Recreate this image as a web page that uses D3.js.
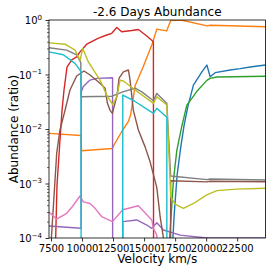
<!DOCTYPE html>
<html>
<head>
<meta charset="utf-8">
<script src="https://cdn.jsdelivr.net/npm/d3@7"></script>
<style>
  body { margin: 0; background: #fff; }
  svg { font-family: "DejaVu Sans", sans-serif; }
</style>
</head>
<body>
<div id="vis"></div>
<script>
const FRAME_WIDTH = 274;
const FRAME_HEIGHT = 274;
const MARGINS = {left: 49, right: 8.5, top: 20, bottom: 36};

// abundance of each element vs velocity as [km/s, ratio]
// (0 means the element is absent in that shell)
const blue = [[7340, 0], [17100, 0], [17200, 3e-5], [17420, 2.6e-4], [17660, 1.43e-3],
  [17945, 4.5e-3], [18225, 1.18e-2], [18550, 2.75e-2], [18975, 6.4e-2], [19655, 0.112],
  [20055, 0.149], [20325, 0.091], [20725, 0.108], [21935, 0.121], [22740, 0.128],
  [23550, 0.137], [24780, 0.149]];
const orange = [[7340, 8.3e-3], [9920, 7.6e-3], [9960, 4.0e-3], [12420, 4.4e-3],
  [13200, 9.0e-3], [13750, 1.4e-2], [13910, 1.8e-2], [14275, 6.2e-2], [14920, 0.137],
  [15645, 0.36], [16025, 0.68], [16815, 0.63], [17155, 0.99], [18065, 0.99],
  [20080, 0.78], [20320, 0.80], [24780, 0.75]];
const green = [[7340, 0], [16900, 0], [16950, 4e-5], [17180, 2.6e-4], [17365, 1.16e-3],
  [17640, 4.1e-3], [18040, 1.13e-2], [18445, 2.75e-2], [18975, 0.040], [19275, 0.050],
  [20055, 0.078], [20320, 0.085], [20860, 0.090], [24780, 0.093]];
const red = [[7340, 0], [7700, 0], [7820, 3e-5], [7985, 9.4e-4], [8225, 6.3e-3],
  [8390, 2.2e-2], [8550, 5.2e-2], [8790, 0.137], [9170, 0.185], [9570, 0.21],
  [9840, 0.26], [10380, 0.36], [11290, 0.46], [11990, 0.53], [12395, 0.57],
  [12800, 0.73], [13200, 0.61], [14010, 0.64], [14540, 0.67], [15220, 0.51],
  [15750, 0.40], [15850, 0], [24780, 0]];
const purple = [[7340, 1.66e-4], [9920, 1.51e-4], [9940, 0.048], [10105, 0.060],
  [10645, 0.079], [11210, 0.085], [12460, 0.087], [12520, 0], [13200, 0],
  [13285, 2.0e-4], [14410, 2.14e-4], [15220, 1.73e-4], [15620, 1.5e-4],
  [16025, 1.9e-4], [16560, 1.4e-4], [17900, 1.13e-4], [20055, 1.0e-4], [24780, 1.0e-4]];
const brown = [[7340, 2e-5], [7960, 3.6e-3], [8225, 9.6e-3], [8630, 2.2e-2],
  [9030, 5.2e-2], [9570, 9.4e-2], [10160, 0.116], [10645, 0.098], [11450, 0.069],
  [11855, 0.056], [12040, 0.030], [12260, 0.022], [12445, 0.0194], [12825, 0.042],
  [12985, 0.086], [13330, 0.112], [13735, 0.121], [13870, 0.079], [14135, 0.022],
  [14540, 9.6e-3], [15080, 4.7e-3], [15485, 2.5e-3], [16025, 8.4e-4], [16290, 2.5e-4],
  [16560, 1.0e-4], [16800, 0], [17000, 0], [17140, 1.12e-3], [20060, 1.07e-3],
  [20320, 1.1e-3], [24780, 1.08e-3]];
const pink = [[7340, 3.0e-4], [7945, 2.23e-4], [8765, 2.84e-4], [9195, 3.7e-4],
  [9840, 5.9e-4], [10105, 4.6e-4], [10645, 4.3e-4], [11050, 3.5e-4], [11590, 2.46e-4],
  [12445, 2.0e-4], [13285, 3.3e-4], [14540, 3.9e-4], [15620, 2.14e-4], [15750, 1.5e-4],
  [16025, 1.13e-4], [16290, 0], [24780, 0]];
const gray = [[7340, 0.31], [8765, 0.28], [9570, 0.23], [9900, 0.165], [9930, 0.039],
  [12420, 0.040], [13285, 0.048], [14275, 0.056], [14815, 0.048], [15750, 0.033],
  [16025, 0.045], [16830, 0.0296], [17140, 1.37e-3], [20060, 1.18e-3], [20320, 1.21e-3],
  [24780, 1.16e-3]];
const olive = [[7340, 0.38], [8630, 0.36], [9435, 0.28], [9760, 0.20], [9840, 0.18],
  [10055, 0.30], [10510, 0.17], [11450, 0.079], [11990, 0.042], [12475, 0.028],
  [12800, 0.039], [13065, 0.079], [13330, 0.076], [14275, 0.052], [15750, 0.0296],
  [16025, 0.039], [16830, 0.0275], [17150, 5.65e-4], [17500, 4.2e-4], [18170, 3.5e-4],
  [18975, 4.3e-4], [20055, 6.2e-4], [20860, 7.4e-4], [22475, 7.9e-4], [24780, 8.2e-4]];
const cyan = [[7340, 0.26], [8490, 0.23], [9435, 0.16], [9840, 0.12], [9920, 0.11],
  [9980, 0], [13200, 0], [13285, 0.042], [14275, 0.032], [15750, 0.0194],
  [16025, 0.024], [16830, 0.0164], [16890, 0], [24780, 0]];

const SERIES = [blue, orange, green, red, purple, brown, pink, gray, olive, cyan];
const COLORS = ["#1f77b4", "#ff7f0e", "#2ca02c", "#d62728", "#9467bd",
                "#8c564b", "#e377c2", "#7f7f7f", "#bcbd22", "#17becf"];

const X_TICKS = [7500, 10000, 12500, 15000, 17500, 20000, 22500];
const Y_TICKS = [1e-4, 1e-3, 1e-2, 1e-1, 1];

const VIS_WIDTH = FRAME_WIDTH - MARGINS.left - MARGINS.right;
const VIS_HEIGHT = FRAME_HEIGHT - MARGINS.top - MARGINS.bottom;

const FRAME = d3.select("#vis")
  .append("svg")
    .attr("width", FRAME_WIDTH)
    .attr("height", FRAME_HEIGHT);

const X_SCALE = d3.scaleLinear()
  .domain([7340, 24780])
  .range([0, VIS_WIDTH]);

const Y_SCALE = d3.scaleLog()
  .domain([1e-4, 1])
  .range([VIS_HEIGHT, 0]);

const G = FRAME.append("g")
  .attr("transform", "translate(" + MARGINS.left + "," + MARGINS.top + ")");

G.append("clipPath").attr("id", "clip")
  .append("rect").attr("width", VIS_WIDTH).attr("height", VIS_HEIGHT);

// zero abundance gets clipped far below the axis, like matplotlib does
const line = d3.line()
  .x(d => X_SCALE(d[0]))
  .y(d => Y_SCALE(Math.max(d[1], 1e-30)));

G.append("g").attr("clip-path", "url(#clip)")
  .selectAll("path")
  .data(SERIES)
  .enter()
  .append("path")
    .attr("d", line)
    .attr("fill", "none")
    .attr("stroke", (d, i) => COLORS[i])
    .attr("stroke-width", 1.4)
    .attr("stroke-linejoin", "round");

// x axis
const xAxis = G.append("g")
  .attr("transform", "translate(0," + VIS_HEIGHT + ")")
  .call(d3.axisBottom(X_SCALE).tickValues(X_TICKS).tickFormat(d3.format("d"))
        .tickSize(3.5).tickPadding(3.5).tickSizeOuter(0));
xAxis.select(".domain").remove();
xAxis.selectAll("text").attr("font-size", "10px").attr("font-family", "DejaVu Sans").attr("fill", "#000");
xAxis.selectAll("line").attr("stroke-width", 0.8);

// y axis, minor ticks first
const minor = [];
for (let k = -4; k < 0; k++) for (let m = 2; m < 10; m++) minor.push(m * Math.pow(10, k));
const yMinor = G.append("g")
  .call(d3.axisLeft(Y_SCALE).tickValues(minor).tickFormat("").tickSize(2).tickSizeOuter(0));
yMinor.select(".domain").remove();
yMinor.selectAll("line").attr("stroke-width", 0.6);

const yAxis = G.append("g")
  .call(d3.axisLeft(Y_SCALE).tickValues(Y_TICKS).tickFormat("").tickSize(3.5).tickPadding(3.5).tickSizeOuter(0));
yAxis.select(".domain").remove();
yAxis.selectAll("line").attr("stroke-width", 0.8);
yAxis.selectAll(".tick text")
  .attr("dy", null)
  .attr("y", 3.8)
  .attr("font-size", "10px")
  .attr("font-family", "DejaVu Sans")
  .attr("fill", "#000")
  .each(function(d) {
    const e = Math.round(Math.log10(d));
    const t = d3.select(this);
    t.append("tspan").text("10");
    t.append("tspan").attr("dy", -4.6).attr("font-size", "7px")
      .text(e < 0 ? "\u2212" + (-e) : String(e));
  });

// frame
G.append("rect")
  .attr("width", VIS_WIDTH).attr("height", VIS_HEIGHT)
  .attr("fill", "none").attr("stroke", "#000").attr("stroke-width", 0.8);

// labels
FRAME.append("text")
  .attr("x", MARGINS.left + VIS_WIDTH / 2).attr("y", 15.5)
  .attr("text-anchor", "middle").attr("font-size", "12px")
  .text("-2.6 Days Abundance");

FRAME.append("text")
  .attr("x", MARGINS.left + VIS_WIDTH / 2).attr("y", 263)
  .attr("text-anchor", "middle").attr("font-size", "12px")
  .text("Velocity km/s");

FRAME.append("text")
  .attr("transform", "translate(17.5," + (MARGINS.top + VIS_HEIGHT / 2) + ") rotate(-90)")
  .attr("text-anchor", "middle").attr("font-size", "12px")
  .text("Abundance (ratio)");
</script>
</body>
</html>
